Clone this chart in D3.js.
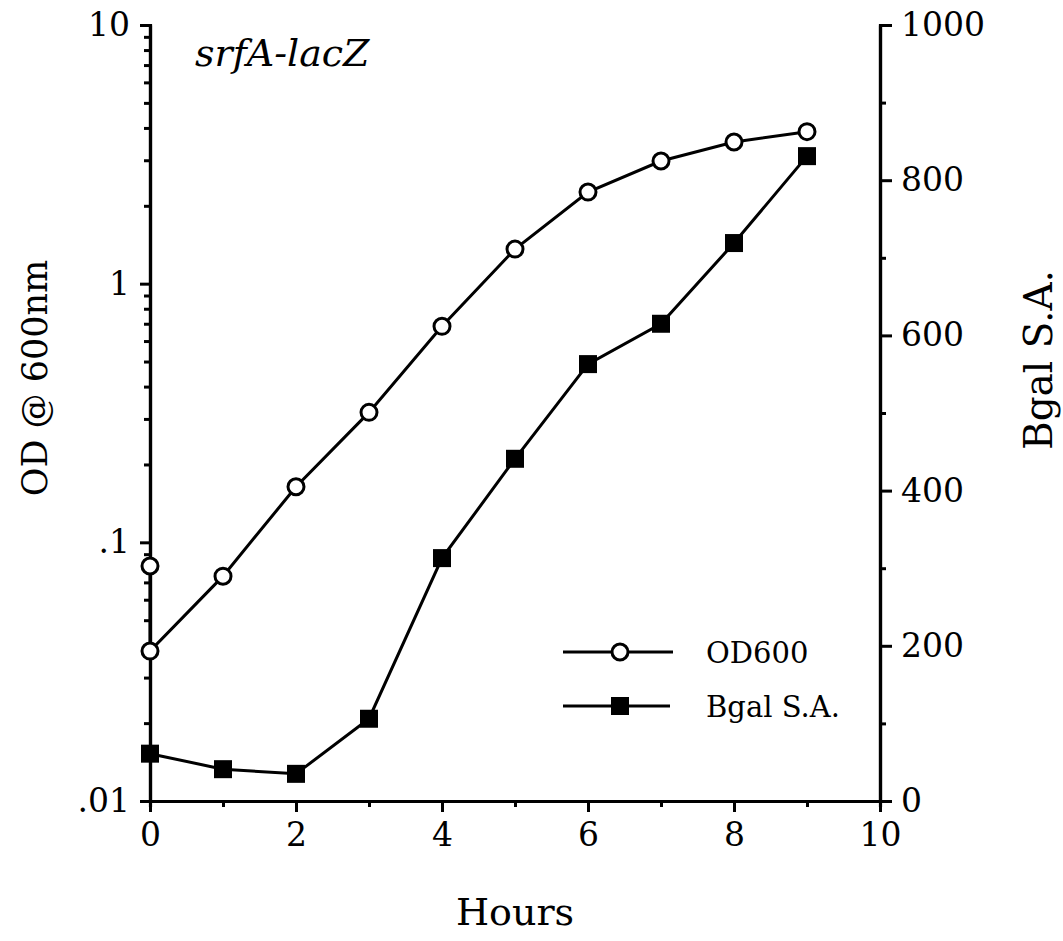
<!DOCTYPE html>
<html>
<head>
<meta charset="utf-8">
<script src="https://cdn.jsdelivr.net/npm/d3@7"></script>
<style>
  body { margin: 0; background: #fff; }
  text { font-family: "DejaVu Serif", serif; fill: #000; }
</style>
</head>
<body>
<div id="chart"></div>
<script>
// data
var odHours = [0, 0, 1, 2, 3, 4, 5, 6, 7, 8, 9];
var od600 = [0.081, 0.038, 0.074, 0.164, 0.318, 0.684, 1.36, 2.26, 2.98, 3.53, 3.87];
var bgalHours = [0, 1, 2, 3, 4, 5, 6, 7, 8, 9];
var bgalSA = [61, 41, 35, 106, 313, 441, 563, 615, 719, 831];

var xTicks = [0, 2, 4, 6, 8, 10];
var leftTicks = [0.01, 0.1, 1, 10];
var leftLabels = [".01", ".1", "1", "10"];
var rightTicks = [0, 200, 400, 600, 800, 1000];

var width = 1063, height = 941;
var margin = { top: 25, right: 183, bottom: 140, left: 150 };

var svg = d3.select("#chart").append("svg")
    .attr("width", width).attr("height", height);

var x = d3.scaleLinear().domain([0, 10]).range([margin.left, width - margin.right]);
var yLeft = d3.scaleLog().domain([0.01, 10]).range([height - margin.bottom, margin.top]);
var yRight = d3.scaleLinear().domain([0, 1000]).range([height - margin.bottom, margin.top]);

// minor ticks
var minorLog = [];
[0.01, 0.1, 1].forEach(function(d) {
    for (var k = 2; k <= 9; k++) minorLog.push(d * k);
});
var minorX = [1, 3, 5, 7, 9];
var minorRight = [100, 300, 500, 700, 900];

function styleAxis(g) {
    g.select(".domain").attr("stroke", "#000").attr("stroke-width", 3.2);
    g.selectAll(".tick line").attr("stroke", "#000").attr("stroke-width", 3);
    g.selectAll(".tick text").attr("font-family", "DejaVu Serif").attr("font-size", 33);
}

// x axis
svg.append("g")
    .attr("transform", "translate(0," + (height - margin.bottom) + ")")
    .call(d3.axisBottom(x).tickValues(minorX).tickSize(6).tickFormat(""))
    .call(styleAxis);
svg.append("g")
    .attr("transform", "translate(0," + (height - margin.bottom) + ")")
    .call(d3.axisBottom(x).tickValues(xTicks).tickSize(11).tickSizeOuter(0).tickPadding(11).tickFormat(d3.format("d")))
    .call(styleAxis);

// left axis
svg.append("g")
    .attr("transform", "translate(" + margin.left + ",0)")
    .call(d3.axisLeft(yLeft).tickValues(minorLog).tickSize(6).tickFormat(""))
    .call(styleAxis);
svg.append("g")
    .attr("transform", "translate(" + margin.left + ",0)")
    .call(d3.axisLeft(yLeft).tickValues(leftTicks).tickSize(10).tickSizeOuter(0).tickPadding(10)
        .tickFormat(function(d, i) { return leftLabels[i]; }))
    .call(styleAxis);

// right axis
svg.append("g")
    .attr("transform", "translate(" + (width - margin.right) + ",0)")
    .call(d3.axisRight(yRight).tickValues(minorRight).tickSize(6).tickFormat(""))
    .call(styleAxis);
svg.append("g")
    .attr("transform", "translate(" + (width - margin.right) + ",0)")
    .call(d3.axisRight(yRight).tickValues(rightTicks).tickSize(12).tickSizeOuter(0).tickPadding(9)
        .tickFormat(d3.format("d")))
    .call(styleAxis);

// axis titles
svg.append("text")
    .attr("x", x(5)).attr("y", 925)
    .attr("text-anchor", "middle")
    .attr("font-size", 38)
    .text("Hours");

svg.append("text")
    .attr("transform", "translate(47,378) rotate(-90)")
    .attr("text-anchor", "middle")
    .attr("font-size", 35)
    .text("OD @ 600nm");

svg.append("text")
    .attr("transform", "translate(1052,360) rotate(-90)")
    .attr("text-anchor", "middle")
    .attr("font-size", 39)
    .text("Bgal S.A.");

svg.append("text")
    .attr("x", 195).attr("y", 66)
    .attr("font-style", "italic")
    .attr("font-size", 38)
    .text("srfA-lacZ");

// OD600 line
var odData = odHours.map(function(h, i) { return { x: h, y: od600[i] }; });
var bgData = bgalHours.map(function(h, i) { return { x: h, y: bgalSA[i] }; });

svg.append("path")
    .datum(odData)
    .attr("fill", "none")
    .attr("stroke", "#000")
    .attr("stroke-width", 3)
    .attr("d", d3.line()
        .x(function(d) { return x(d.x); })
        .y(function(d) { return yLeft(d.y); }));

svg.append("path")
    .datum(bgData)
    .attr("fill", "none")
    .attr("stroke", "#000")
    .attr("stroke-width", 3)
    .attr("d", d3.line()
        .x(function(d) { return x(d.x); })
        .y(function(d) { return yRight(d.y); }));

svg.append("g")
    .selectAll("rect")
    .data(bgData)
    .enter()
    .append("rect")
    .attr("x", function(d) { return x(d.x) - 9; })
    .attr("y", function(d) { return yRight(d.y) - 9; })
    .attr("width", 18).attr("height", 18)
    .attr("fill", "#000");

svg.append("g")
    .selectAll("circle")
    .data(odData)
    .enter()
    .append("circle")
    .attr("cx", function(d) { return x(d.x); })
    .attr("cy", function(d) { return yLeft(d.y); })
    .attr("r", 8)
    .attr("fill", "#fff")
    .attr("stroke", "#000")
    .attr("stroke-width", 3);

// legend
var legend = svg.append("g");
legend.append("line").attr("x1", 563).attr("x2", 673).attr("y1", 652).attr("y2", 652)
    .attr("stroke", "#000").attr("stroke-width", 3);
legend.append("circle").attr("cx", 620).attr("cy", 652).attr("r", 8)
    .attr("fill", "#fff").attr("stroke", "#000").attr("stroke-width", 3);
legend.append("text").attr("x", 706).attr("y", 663).attr("font-size", 29).text("OD600");

legend.append("line").attr("x1", 563).attr("x2", 670).attr("y1", 706).attr("y2", 706)
    .attr("stroke", "#000").attr("stroke-width", 3);
legend.append("rect").attr("x", 611).attr("y", 697).attr("width", 18).attr("height", 18)
    .attr("fill", "#000");
legend.append("text").attr("x", 706).attr("y", 717).attr("font-size", 29).text("Bgal S.A.");
</script>
</body>
</html>
